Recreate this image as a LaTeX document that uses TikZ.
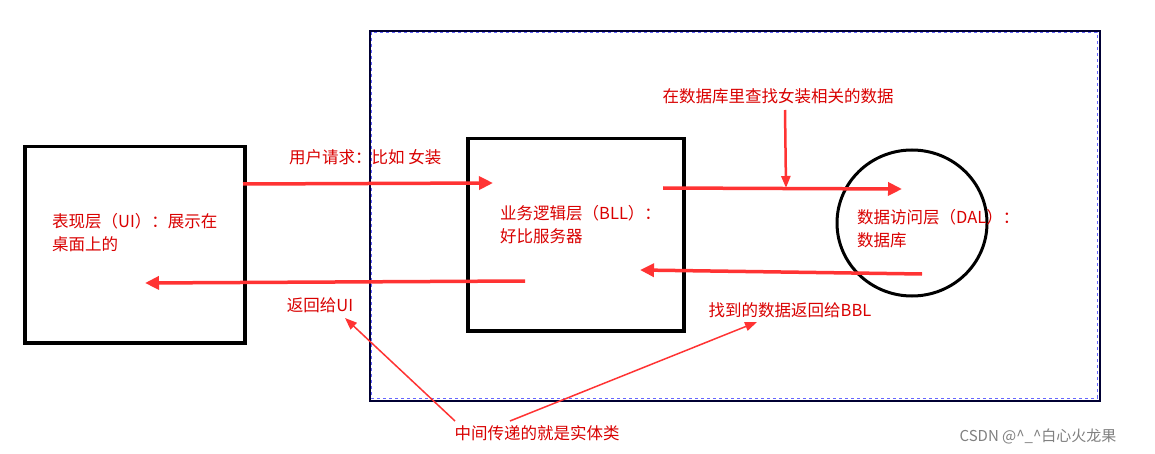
\documentclass[tikz,border=0pt]{standalone}
\usepackage{fontspec}
\setmainfont{Noto Sans CJK SC}
\usetikzlibrary{arrows.meta,shapes.geometric}
\begin{document}
\begin{tikzpicture}[x=1pt,y=-1pt,
  lbl/.style={text=red!85!black,font=\fontsize{16.5}{23}\selectfont,inner sep=0,align=left},
  blk/.style={draw=black,line width=3.5pt},
  fat/.style={draw=red!80!white,line width=3.5pt,-{Triangle[length=14pt,width=13pt]}},
  thin/.style={draw=red!80!white,line width=1.5pt,-{Triangle[length=12pt,width=9pt]}}]
\useasboundingbox[fill=white] (0,0) rectangle (1155,454);
\node[draw=black!80!blue,line width=2pt,minimum width=730,minimum height=370,anchor=north west,inner sep=0] (big) at (369,30) {};
\draw[blue!60,dashed,line width=0.5pt] (371,32) rectangle (1097,398);
\node[blk,minimum width=220,minimum height=196,anchor=north west,inner sep=0] (ui) at (23,145) {};
\node[blk,minimum width=216,minimum height=192,anchor=north west,inner sep=0] (bll) at (466,137) {};
\node[draw=black,line width=3pt,ellipse,minimum width=150,minimum height=146,inner sep=0] (dal) at (912,223) {};
\node[lbl,anchor=west] (t1) at (52,233) {表现层（UI）：展示在\\桌面上的};
\node[lbl,anchor=west] (t2) at (500,225) {业务逻辑层（BLL）：\\好比服务器};
\node[lbl,anchor=west] (t3) at (857,229) {数据访问层（DAL）：\\数据库};
\node[lbl,anchor=west] (t4) at (289,157) {用户请求：比如 女装};
\node[lbl] (t5) at (778,96) {在数据库里查找女装相关的数据};
\node[lbl] (t6) at (320,305) {返回给UI};
\node[lbl] (t7) at (790,310) {找到的数据返回给BBL};
\node[lbl] (t8) at (537,433) {中间传递的就是实体类};
\node[text=gray,font=\fontsize{15}{18}\selectfont,inner sep=0] (wm) at (1038,436) {CSDN @\^{}\_\^{}白心火龙果};
\coordinate (a1) at (243,184); \coordinate (a2) at (493,183);
\coordinate (b1) at (663,188); \coordinate (b2) at (902,189);
\coordinate (c1) at (525,281); \coordinate (c2) at (145,283);
\coordinate (d1) at (922,274); \coordinate (d2) at (640,270);
\coordinate (e1) at (785,110); \coordinate (e2) at (786,188);
\coordinate (f0) at (455,421); \coordinate (f1) at (345,318);
\coordinate (g0) at (510,421); \coordinate (g1) at (757,322);
\draw[fat] (a1)--(a2);
\draw[fat] (b1)--(b2);
\draw[fat] (c1)--(c2);
\draw[fat] (d1)--(d2);
\draw[thin,line width=2.5pt] (e1)--(e2);
\draw[thin] (f0)--(f1);
\draw[thin] (g0)--(g1);
\end{tikzpicture}
\end{document}
